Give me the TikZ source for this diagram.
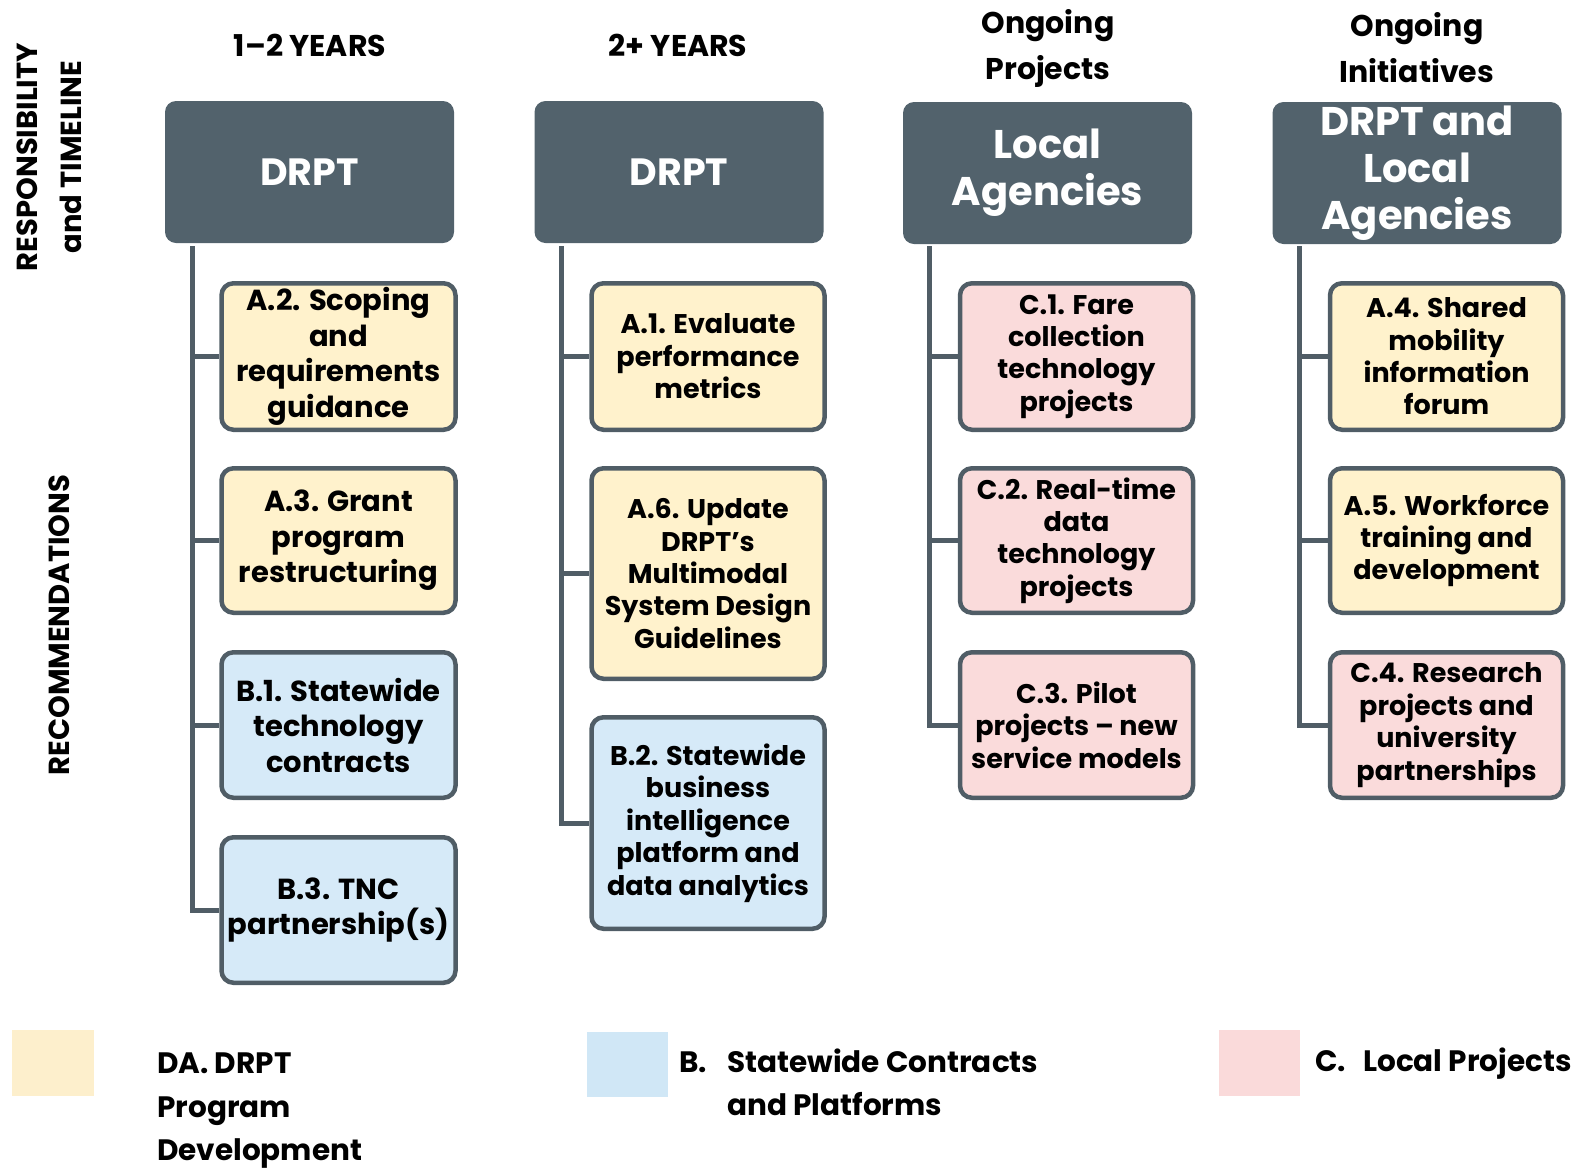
\documentclass[tikz,border=0pt]{standalone}
\usepackage{fontspec}
\setmainfont{Poppins}
\definecolor{hdr}{RGB}{82,98,108}
\definecolor{bord}{RGB}{80,93,102}
\definecolor{yel}{RGB}{255,242,204}
\definecolor{blu}{RGB}{214,234,248}
\definecolor{pnk}{RGB}{250,219,219}
\definecolor{lyel}{RGB}{253,239,204}
\definecolor{lblu}{RGB}{208,231,246}
\definecolor{lpnk}{RGB}{250,218,218}
\tikzset{
  hdrbox/.style={fill=hdr, rounded corners=11pt, minimum width=289pt, minimum height=142pt, inner sep=0pt, text=white, align=center, font=\bfseries\fontsize{40}{47}\selectfont},
  cardA/.style={draw=bord, line width=4.5pt, rounded corners=12pt, minimum width=234pt, inner sep=0pt, align=center, font=\bfseries\fontsize{29}{35.5}\selectfont},
  cardB/.style={draw=bord, line width=4.5pt, rounded corners=12pt, minimum width=233pt, inner sep=0pt, align=center, font=\bfseries\fontsize{27}{32.4}\selectfont},
  conn/.style={draw=bord, line width=5pt},
  toplabel/.style={align=center, font=\bfseries\fontsize{30}{46}\selectfont},
  sidelabel/.style={rotate=90, font=\bfseries\fontsize{29}{30}\selectfont},
  legtext/.style={anchor=base west, inner sep=0pt, font=\bfseries\fontsize{29.5}{44}\selectfont},
}
\begin{document}
\begin{tikzpicture}[x=1pt,y=-1pt]
\useasboundingbox (0,0) rectangle (1587,1168);

% side labels
\node[sidelabel] (resp) at (27,157) {RESPONSIBILITY};
\node[sidelabel] (time) at (71,157) {and TIMELINE};
\node[sidelabel] (recs) at (59,625) {RECOMMENDATIONS};

% top labels
\node[toplabel] (t1) at (310,45) {1–2 YEARS};
\node[toplabel] (t2) at (678,45) {2+ YEARS};
\node[toplabel] (t3) at (1048,48) {Ongoing\\Projects};
\node[toplabel] (t4) at (1417,48) {Ongoing\\Initiatives};

% headers
\node[hdrbox] (h1) at (309.5,172) {\fontsize{38}{47}\selectfont DRPT};
\node[hdrbox] (h2) at (679,172) {\fontsize{38}{47}\selectfont DRPT};
\node[hdrbox] (h3) at (1047.5,173) {Local\\Agencies};
\node[hdrbox] (h4) at (1417,173) {DRPT and\\Local\\Agencies};

% column 1
\node[cardA, fill=yel, minimum height=146.5pt] (a2) at (338.5,356.5) {A.2. Scoping\\and\\requirements\\guidance};
\node[cardA, fill=yel, minimum height=144.5pt] (a3) at (338.5,540.5) {A.3. Grant\\program\\restructuring};
\node[cardA, fill=blu, minimum height=145.5pt] (b1) at (338.5,725) {B.1. Statewide\\technology\\contracts};
\node[cardA, fill=blu, minimum height=145.5pt] (b3) at (338.5,910) {B.3. TNC\\partnership(s)};

% column 2
\node[cardB, fill=yel, minimum height=146.5pt] (a1) at (708,356.5) {A.1. Evaluate\\performance\\metrics};
\node[cardB, fill=yel, minimum height=210.5pt] (a6) at (708,573.5) {A.6. Update\\DRPT’s\\Multimodal\\System Design\\Guidelines};
\node[cardB, fill=blu, minimum height=211.5pt] (b2) at (708,823) {B.2. Statewide\\business\\intelligence\\platform and\\data analytics};

% column 3
\node[cardB, fill=pnk, minimum height=146.5pt] (c1) at (1076.5,356.5) {C.1. Fare\\collection\\technology\\projects};
\node[cardB, fill=pnk, minimum height=144.5pt] (c2) at (1076.5,540.5) {C.2. Real-time\\data\\technology\\projects};
\node[cardB, fill=pnk, minimum height=145.5pt] (c3) at (1076.5,725) {C.3. Pilot\\projects – new\\service models};

% column 4
\node[cardB, fill=yel, minimum height=146.5pt] (a4) at (1446.5,356.5) {A.4. Shared\\mobility\\information\\forum};
\node[cardB, fill=yel, minimum height=144.5pt] (a5) at (1446.5,540.5) {A.5. Workforce\\training and\\development};
\node[cardB, fill=pnk, minimum height=145.5pt] (c4) at (1446.5,725) {C.4. Research\\projects and\\university\\partnerships};

% spines
\coordinate (s1) at (192,246);
\coordinate (s2) at (561,246);
\coordinate (s3) at (929,246);
\coordinate (s4) at (1299,246);

\draw[conn] (s1) |- (b3.west);
\draw[conn] (s1 |- a2.west) -- (a2.west);
\draw[conn] (s1 |- a3.west) -- (a3.west);
\draw[conn] (s1 |- b1.west) -- (b1.west);

\draw[conn] (s2) |- (b2.west);
\draw[conn] (s2 |- a1.west) -- (a1.west);
\draw[conn] (s2 |- a6.west) -- (a6.west);

\draw[conn] (s3) |- (c3.west);
\draw[conn] (s3 |- c1.west) -- (c1.west);
\draw[conn] (s3 |- c2.west) -- (c2.west);

\draw[conn] (s4) |- (c4.west);
\draw[conn] (s4 |- a4.west) -- (a4.west);
\draw[conn] (s4 |- a5.west) -- (a5.west);

% legend
\fill[lyel] (12,1030) rectangle (94,1096);
\fill[lblu] (587,1032) rectangle (668,1097);
\fill[lpnk] (1219,1030) rectangle (1300,1096);

\node[legtext] (la1) at (157,1073) {DA. DRPT};
\node[legtext] (la2) at (157,1117) {Program};
\node[legtext] (la3) at (157,1160) {Development};
\node[legtext] (lb0) at (679,1072) {B.};
\node[legtext] (lb1) at (727,1072) {Statewide Contracts};
\node[legtext] (lb2) at (727,1115) {and Platforms};
\node[legtext] (lc0) at (1315,1071) {C.};
\node[legtext] (lc1) at (1363,1071) {Local Projects};
\end{tikzpicture}
\end{document}
